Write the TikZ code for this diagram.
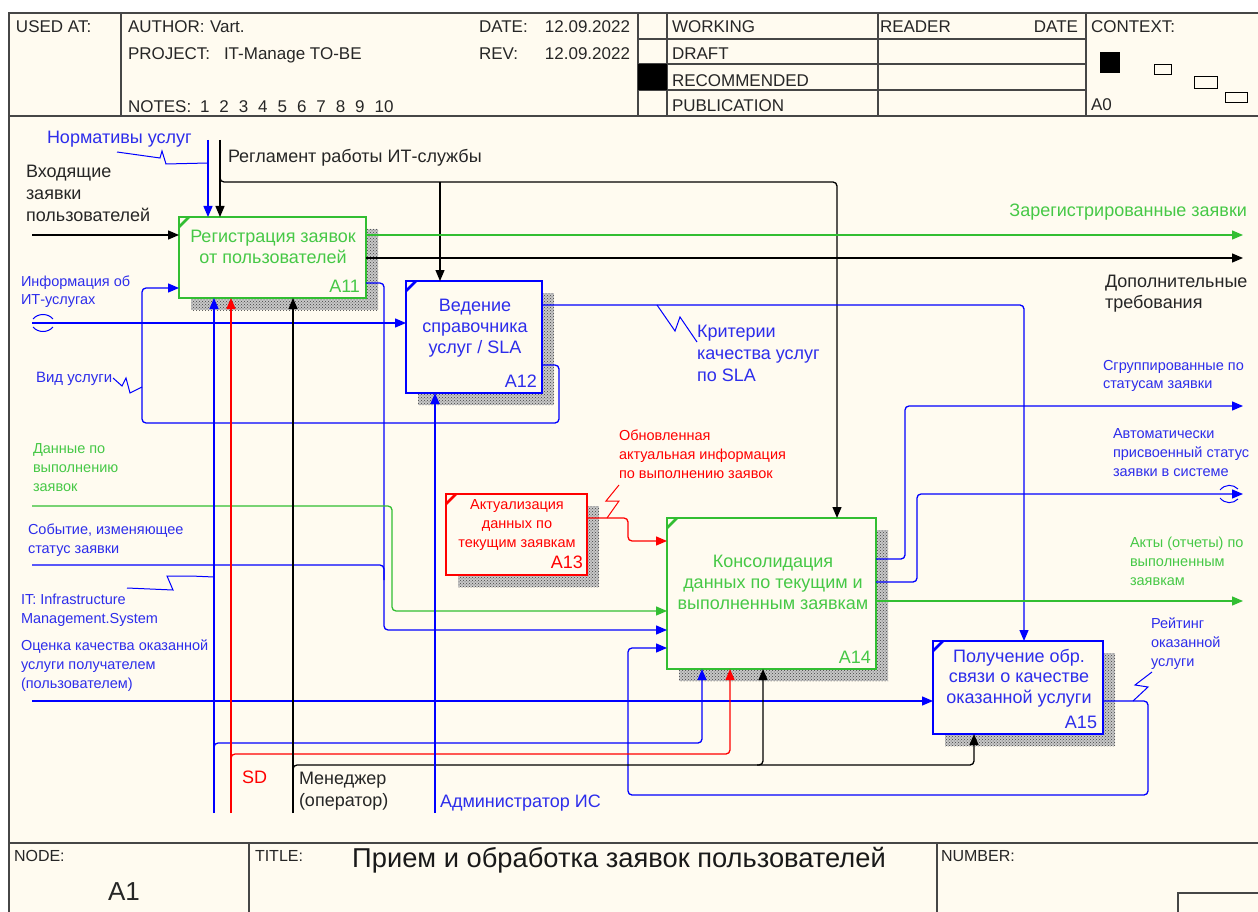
\documentclass[tikz,border=0pt]{standalone}
\usepackage{fontspec}
\setmainfont{Liberation Sans}
\usetikzlibrary{arrows.meta,patterns,backgrounds}

\definecolor{paper}{RGB}{255,251,240}
\definecolor{frame}{RGB}{70,70,70}
\definecolor{igreen}{RGB}{50,190,50}
\definecolor{tgreen}{RGB}{70,200,70}
\definecolor{iblue}{RGB}{0,0,255}
\definecolor{tblue}{RGB}{45,45,235}
\definecolor{ired}{RGB}{255,0,0}

\begin{document}
\begin{tikzpicture}[x=1pt,y=-1pt,
  every node/.style={inner sep=0pt, outer sep=0pt},
  fr/.style={draw=frame, line width=1.2},
  hd/.style={font=\fontsize{17}{20}\selectfont, anchor=base west, text=black!85},
  lb/.style={font=\fontsize{18}{22}\selectfont, anchor=base west, align=left},
  sl/.style={font=\fontsize{14.5}{18.8}\selectfont, anchor=base west, align=left},
  bt/.style={font=\fontsize{18}{21}\selectfont, anchor=base, align=center},
  st/.style={font=\fontsize{14.5}{19}\selectfont, anchor=base, align=center},
  bid/.style={font=\fontsize{18}{20}\selectfont, anchor=base east},
  box/.style 2 args={draw, line width=2.5, fill=paper, anchor=north west,
                     minimum width=#1, minimum height=#2},
  tick/.style={line width=2.5},
  shade/.style={fill=black!22},
  ln/.style={line width=1.3, rounded corners=4pt},
  arr/.style={ln, -{Triangle[length=11pt,width=9pt]}},
  zig/.style={line width=1},
]
\useasboundingbox (0,0) rectangle (1258,912);

% ---------- activity boxes ----------
\node[box={187}{81}, draw=igreen]  (a11) at (179,217) {};
\node[box={136}{112}, draw=iblue]  (a12) at (406,281) {};
\node[box={141}{81}, draw=ired]    (a13) at (446,494) {};
\node[box={209}{151}, draw=igreen] (a14) at (667,518) {};
\node[box={170}{93}, draw=iblue]   (a15) at (933,641) {};

\begin{scope}[on background layer]
  \fill[white] (0,0) rectangle (1258,912);
  \fill[paper] (9,13) rectangle (1258,912);
  \foreach \b in {a11,a12,a13,a14,a15}{
    \fill[shade] ([shift={(12,12)}]\b.north west) rectangle ([shift={(12,12)}]\b.south east);
    \fill[pattern=crosshatch dots, pattern color=black!75]
      ([shift={(12,12)}]\b.north west) rectangle ([shift={(12,12)}]\b.south east);
  }
\end{scope}

\draw[tick, igreen] (a11.north west) ++(0,10) -- ++(10,-10);
\draw[tick, iblue]  (a12.north west) ++(0,10) -- ++(10,-10);
\draw[tick, ired]   (a13.north west) ++(0,10) -- ++(10,-10);
\draw[tick, igreen] (a14.north west) ++(0,10) -- ++(10,-10);
\draw[tick, iblue]  (a15.north west) ++(0,10) -- ++(10,-10);

% ---------- form frame ----------
\draw[fr] (1262,13) -- (9,13) -- (9,916);
\draw[fr] (9,116) -- (1262,116);
\foreach \x in {121,638,667,878,1086} \draw[fr] (\x,13) -- (\x,116);
\foreach \y in {39,64,90} \draw[fr] (638,\y) -- (1086,\y);
\fill[black] (638,64) rectangle (667,90);
\fill[black] (1100,52) rectangle (1120,73);
\draw[black, line width=1] (1154,65) rectangle (1171,75);
\draw[black, line width=1] (1194,77) rectangle (1217,89);
\draw[black, line width=1] (1225,93) rectangle (1247,103);
\draw[fr] (9,843) -- (1262,843);
\draw[fr] (249,843) -- (249,916);
\draw[fr] (937,843) -- (937,916);
\draw[fr] (1178,916) -- (1178,893) -- (1262,893);

% ---------- header texts ----------
\node[hd] (usedat) at (16,33) {USED AT:};
\node[hd] (author) at (128,33) {AUTHOR:};
\node[hd] (authorv) at (210,33) {Vart.};
\node[hd] (project) at (128,60) {PROJECT:};
\node[hd] (projectv) at (224,60) {IT-Manage TO-BE};
\node[hd] (notes) at (128,113) {NOTES:};
\foreach \i in {1,...,10} \node[hd] (note\i) at ({200+19.4*(\i-1)},113) {\i};
\node[hd] (date) at (479,33) {DATE:};
\node[hd, anchor=base east] (datev) at (630,33) {12.09.2022};
\node[hd] (rev) at (479,60) {REV:};
\node[hd, anchor=base east] (revv) at (630,60) {12.09.2022};
\node[hd] (working) at (672,33) {WORKING};
\node[hd] (draft) at (672,60) {DRAFT};
\node[hd] (recom) at (672,87) {RECOMMENDED};
\node[hd] (publ) at (672,112) {PUBLICATION};
\node[hd] (reader) at (880,33) {READER};
\node[hd, anchor=base east] (rdate) at (1078,33) {DATE};
\node[hd] (context) at (1091,33) {CONTEXT:};
\node[hd] (ctxa0) at (1091,111) {A0};

% ---------- footer texts ----------
\node[hd, font=\fontsize{16}{18}\selectfont] (nodelbl) at (14,861) {NODE:};
\node[font=\fontsize{26}{28}\selectfont, anchor=base, text=black!85] (nodeval) at (124,900) {A1};
\node[hd, font=\fontsize{16}{18}\selectfont] (titlelbl) at (255,861) {TITLE:};
\node[font=\fontsize{27.3}{29}\selectfont, anchor=base, text=black!90] (title) at (619,867) {Прием и обработка заявок пользователей};
\node[hd, font=\fontsize{16}{18}\selectfont] (numlbl) at (941,861) {NUMBER:};

% ---------- box texts (base = last line) ----------
\node[bt, text=tgreen] (a11t) at (273,263) {Регистрация заявок\\от пользователей};
\node[bid, text=tgreen] (a11n) at (360,292) {A11};
\node[bt, text=tblue] (a12t) at (475,353) {Ведение\\справочника\\услуг / SLA};
\node[bid, text=tblue] (a12n) at (537,387) {A12};
\node[st, text=ired] (a13t) at (517,547) {Актуализация\\данных по\\текущим заявкам};
\node[bid, text=ired] (a13n) at (583,568) {A13};
\node[bt, text=tgreen] (a14t) at (773,609) {Консолидация\\данных по текущим и\\выполненным заявкам};
\node[bid, text=tgreen] (a14n) at (871,663) {A14};
\node[bt, font=\fontsize{18}{20.5}\selectfont, text=tblue] (a15t) at (1019,703) {Получение обр.\\связи о качестве\\оказанной услуги};
\node[bid, text=tblue] (a15n) at (1097,728) {A15};

% ---------- boundary points ----------
\coordinate (norm) at (208,140);
\coordinate (regl) at (220,140);
\coordinate (vhod) at (32,235);
\coordinate (info) at (32,323);
\coordinate (dan)  at (32,506);
\coordinate (sob)  at (32,565);
\coordinate (ocen) at (32,701);
\coordinate (itm)  at (214,813);
\coordinate (sd)   at (231,813);
\coordinate (men)  at (293,813);
\coordinate (adm)  at (435,813);
\coordinate (zar)  at (1243,235);
\coordinate (dop)  at (1243,258);
\coordinate (sgr)  at (1243,406);
\coordinate (avt)  at (1243,494);
\coordinate (akt)  at (1243,601);

% ---------- controls ----------
\draw[arr, iblue] (norm) -- (norm |- a11.north);
\draw[arr, black] (regl) -- (regl |- a11.north);
\draw[arr, black] (regl |- 0,176) |- (837,182) -- (837,0 |- a14.north);
\draw[arr, black] (440,182) -- (440,0 |- a12.north);
\draw[arr, iblue] (a12.east |- 0,305) -| (1024,0 |- a15.north);

% ---------- inputs ----------
\draw[arr, black] (vhod) -- (vhod -| a11.west);
\draw[arr, iblue] (info) -- (info -| a12.west);
\draw[iblue, line width=1] (33,319) .. controls (38,313) and (48,313) .. (53,319);
\draw[iblue, line width=1] (33,327) .. controls (38,333) and (48,333) .. (53,327);
\draw[arr, iblue] (a12.east |- 0,365) -- (559,365) -- (559,423) -- (142,423) -- (142,288) -- (0,288 -| a11.west);
\draw[arr, iblue] (a11.east |- 0,283) -- (384,283) -- (384,630) -- (0,630 -| a14.west);
\draw[ln, iblue] (sob) -| (384,580);
\draw[arr, igreen] (dan) -- (392,506) -- (392,611) -- (0,611 -| a14.west);
\draw[arr, ired] (a13.east |- 0,518) -- (628,518) -- (628,541) -- (0,541 -| a14.west);
\draw[arr, iblue] (a15.east |- 0,701) -- (1148,701) -- (1148,795) -- (628,795) -- (628,648) -- (0,648 -| a14.west);
\draw[arr, iblue] (ocen) -- (ocen -| a15.west);

% ---------- outputs ----------
\draw[arr, igreen] (a11.east |- zar) -- (zar);
\draw[arr, black] (a11.east |- dop) -- (dop);
\draw[arr, iblue] (a14.east |- 0,559) -- (905,559) -- (905,406) -- (sgr);
\draw[arr, iblue] (a14.east |- 0,582) -- (917,582) -- (917,494) -- (avt);
\draw[iblue, line width=1] (1220,490) .. controls (1225,484) and (1233,484) .. (1238,489);
\draw[iblue, line width=1] (1220,498) .. controls (1225,504) and (1233,504) .. (1238,499);
\draw[arr, igreen] (a14.east |- akt) -- (akt);

% ---------- mechanisms ----------
\draw[arr, iblue] (itm) -- (itm |- a11.south);
\draw[arr, iblue] (214,750) |- (702,743) -- (702,0 |- a14.south);
\draw[arr, ired] (sd) -- (sd |- a11.south);
\draw[arr, ired] (231,761) |- (730,754) -- (730,0 |- a14.south);
\draw[arr, black] (men) -- (men |- a11.south);
\draw[arr, black] (293,772) |- (974,765) -- (974,0 |- a15.south);
\draw[arr, black] (757,765) -| (763,0 |- a14.south);
\draw[arr, iblue] (adm) -- (adm |- a12.south);

% ---------- squiggles ----------
\draw[zig, iblue] (117,152) -- (160,158) -- (162,151) -- (166,164) -- (208,163);
\draw[zig, iblue] (113,378) -- (122,386) -- (126,378) -- (130,393) -- (142,387);
\draw[zig, iblue] (127,588) -- (173,590) -- (167,576) -- (191,576) -- (214,577);
\draw[zig, iblue] (657,305) -- (675,331) -- (680,317) -- (697,342);
\draw[zig, ired] (619,485) -- (606,501) -- (619,501) -- (607,518);
\draw[zig, iblue] (1152,672) -- (1135,685) -- (1148,687) -- (1133,701);

% ---------- arrow labels (base = last line) ----------
\node[lb, text=tblue] (normt) at (47,144) {Нормативы услуг};
\node[lb, text=black!85] (reglt) at (228,163) {Регламент работы ИТ-службы};
\node[lb, text=black!85] (vhodt) at (26,222) {Входящие\\заявки\\пользователей};
\node[sl, font=\fontsize{14.5}{18}\selectfont, text=tblue] (infot) at (21,304) {Информация об\\ИТ-услугах};
\node[sl, font=\fontsize{15}{18}\selectfont, text=tblue] (vidt) at (36,382) {Вид услуги};
\node[sl, text=tgreen] (dant) at (33,491) {Данные по\\выполнению\\заявок};
\node[sl, text=tblue] (sobt) at (28,553) {Событие, изменяющее\\статус заявки};
\node[sl, text=tblue] (itmt) at (21,623) {IT: Infrastructure\\Management.System};
\node[sl, text=tblue] (ocent) at (21,688) {Оценка качества оказанной\\услуги получателем\\(пользователем)};
\node[lb, text=ired] (sdt) at (242,783) {SD};
\node[lb, text=black!85] (ment) at (299,806) {Менеджер\\(оператор)};
\node[lb, text=tblue] (admt) at (440,807) {Администратор ИС};
\node[lb, anchor=base east, text=tgreen] (zart) at (1247,217) {Зарегистрированные заявки};
\node[lb, font=\fontsize{18}{21}\selectfont, text=black!85] (dopt) at (1105,308) {Дополнительные\\требования};
\node[lb, font=\fontsize{18}{21.7}\selectfont, text=tblue] (kritt) at (697,381) {Критерии\\качества услуг\\по SLA};
\node[sl, font=\fontsize{14.5}{17.5}\selectfont, text=tblue] (sgrt) at (1103,388) {Сгруппированные по\\статусам заявки};
\node[sl, text=tblue] (avtt) at (1113,476) {Автоматически\\присвоенный статус\\заявки в системе};
\node[sl, text=tgreen] (aktt) at (1130,585) {Акты (отчеты) по\\выполненным\\заявкам};
\node[sl, text=ired] (obnt) at (619,478) {Обновленная\\актуальная информация\\по выполнению заявок};
\node[sl, text=tblue] (reitt) at (1151,666) {Рейтинг\\оказанной\\услуги};

\end{tikzpicture}
\end{document}
